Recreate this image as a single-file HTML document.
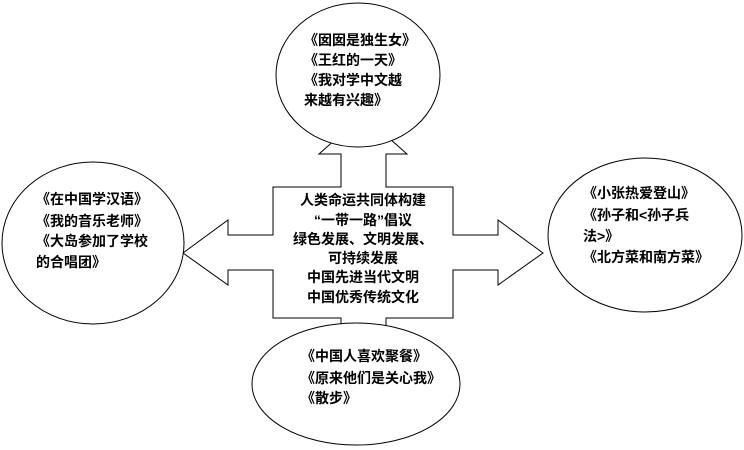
<!DOCTYPE html>
<html><head><meta charset="utf-8"><style>
html,body{margin:0;padding:0;background:#fff;}
svg{display:block;}
text{font-family:"Liberation Sans","Noto Sans CJK SC","WenQuanYi Zen Hei",sans-serif;font-size:14px;font-weight:bold;fill:#000;}
</style></head><body>
<svg width="744" height="450" viewBox="0 0 744 450" xmlns="http://www.w3.org/2000/svg">
<polygon points="273,187 341,187 341,154 319,154 363,115 407,154 386,154 386,187 453,187 453,235 498,235 498,220 543,253 498,285 498,270 453,270 453,318 386,318 386,360 341,360 341,318 273,318 273,270 228,270 228,285 183,253 228,220 228,235 273,235" fill="#fff" stroke="#000" stroke-width="1"/>
<ellipse cx="358" cy="75" rx="82" ry="72" fill="#fff" stroke="#000"/>
<ellipse cx="93" cy="243" rx="91" ry="81" fill="#fff" stroke="#000"/>
<ellipse cx="645" cy="235" rx="97" ry="77" fill="#fff" stroke="#000"/>
<ellipse cx="356" cy="384" rx="104" ry="61" fill="#fff" stroke="#000"/>
<g>
<text x="304" y="45">《囡囡是独生女》</text>
<text x="304" y="65">《王红的一天》</text>
<text x="304" y="85">《我对学中文越</text>
<text x="304" y="105">来越有兴趣》</text>
</g>
<g text-anchor="middle">
<text x="363" y="205">人类命运共同体构建</text>
<text x="363" y="225">“一带一路”倡议</text>
<text x="363" y="244">绿色发展、文明发展、</text>
<text x="363" y="263">可持续发展</text>
<text x="363" y="282">中国先进当代文明</text>
<text x="363" y="302">中国优秀传统文化</text>
</g>
<g>
<text x="36" y="204">《在中国学汉语》</text>
<text x="36" y="226">《我的音乐老师》</text>
<text x="36" y="246">《大岛参加了学校</text>
<text x="36" y="267">的合唱团》</text>
</g>
<g>
<text x="583" y="198">《小张热爱登山》</text>
<text x="583" y="220">《孙子和&lt;孙子兵</text>
<text x="583" y="241">法&gt;》</text>
<text x="583" y="262">《北方菜和南方菜》</text>
</g>
<g>
<text x="301" y="361">《中国人喜欢聚餐》</text>
<text x="301" y="383">《原来他们是关心我》</text>
<text x="301" y="403">《散步》</text>
</g>
</svg>
</body></html>
